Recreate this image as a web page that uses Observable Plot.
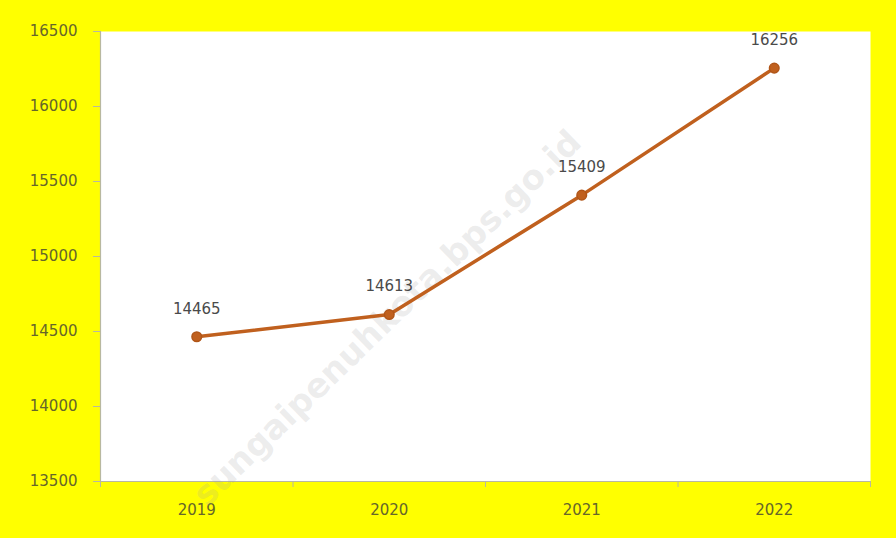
<!DOCTYPE html>
<html>
<head>
<meta charset="utf-8">
<script src="https://cdn.jsdelivr.net/npm/d3@7"></script>
<script src="https://cdn.jsdelivr.net/npm/@observablehq/plot@0.6"></script>
<style>
  html, body { margin: 0; padding: 0; background: #ffff00; }
  #chart svg { display: block; }
</style>
</head>
<body>
<div id="chart"></div>
<script>
const years = [2019, 2020, 2021, 2022];
const values = [14465, 14613, 15409, 16256];
const yTicks = [13500, 14000, 14500, 15000, 15500, 16000, 16500];
const watermark = ["sungaipenuhkota.bps.go.id"];

const data = years.map((year, i) => ({year, value: values[i]}));
const boundaries = d3.range(years.length + 1).map(i => years[0] - 0.5 + i);

const font = "'DejaVu Sans', sans-serif";

const chart = Plot.plot({
  width: 896,
  height: 538,
  marginLeft: 100,
  marginRight: 26,
  marginTop: 31,
  marginBottom: 57,
  style: {background: "#ffff00", fontFamily: font, fontSize: "15px"},
  x: {type: "linear", domain: [boundaries[0], boundaries[boundaries.length - 1]]},
  y: {domain: [13500, 16500]},
  marks: [
    Plot.frame({fill: "white", stroke: "none"}),
    Plot.ruleX([boundaries[0]], {stroke: "#b8b8a0", strokeWidth: 1.2}),
    Plot.ruleY([13500], {stroke: "#b8b8a0", strokeWidth: 1.2}),
    Plot.axisY({ticks: yTicks, tickSize: 7, tickPadding: 16, stroke: "#b8b8a0",
      fill: "#66662a", label: null, tickFormat: d => String(d), fontSize: 15}),
    Plot.axisX({ticks: boundaries, tickSize: 6, stroke: "#b8b8a0", tickFormat: () => "", label: null}),
    Plot.axisX({ticks: years, tickSize: 0, tickPadding: 23, fill: "#66662a",
      tickFormat: d => String(d), label: null, fontSize: 15}),
    Plot.text(watermark, {frameAnchor: "middle", dx: -98, dy: 62, rotate: -44,
      fontSize: 34, fontWeight: "bold", fill: "#a0a0a0", fillOpacity: 0.2, text: d => d}),
    Plot.line(data, {x: "year", y: "value", stroke: "#c0601e", strokeWidth: 3.5}),
    Plot.dot(data, {x: "year", y: "value", r: 4.8, fill: "#c0601e", stroke: "#b05518"}),
    Plot.text(data, {x: "year", y: "value", text: d => String(d.value), dy: -28,
      fill: "#4a4a4a", fontSize: 15})
  ]
});
document.getElementById("chart").appendChild(chart);
</script>
</body>
</html>
